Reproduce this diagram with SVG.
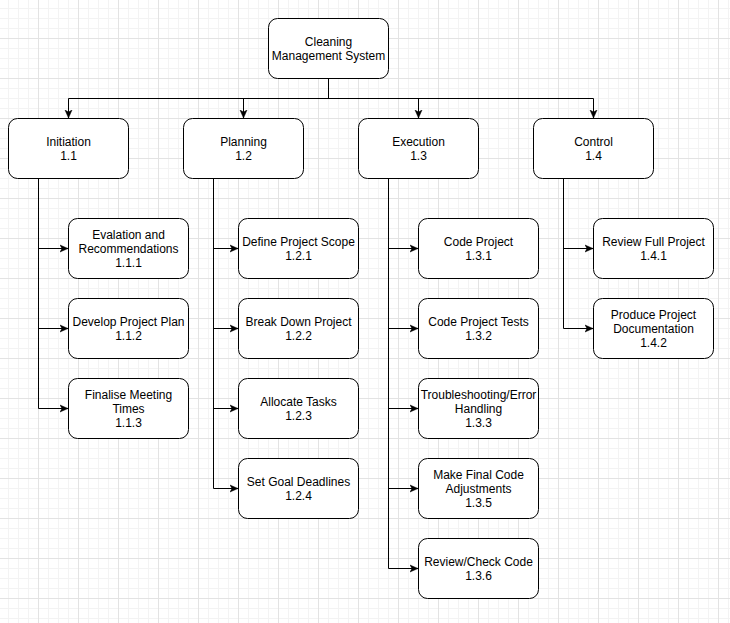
<svg xmlns="http://www.w3.org/2000/svg" width="730" height="623" viewBox="0 0 730 623">
<style>
.n rect{fill:#fff;stroke:#000;stroke-width:1}
.n text{font-family:"Liberation Sans",Arial,sans-serif;font-size:12px;fill:#000;text-anchor:middle}
.c path{fill:none;stroke:#000;stroke-width:1;marker-end:url(#arr)}
</style>
<defs>
<pattern id="grid" patternUnits="userSpaceOnUse" x="0" y="0" width="40" height="40">
<rect x="8" y="0" width="1" height="40" fill="#f3f3f3"/>
<rect x="18" y="0" width="1" height="40" fill="#f3f3f3"/>
<rect x="28" y="0" width="1" height="40" fill="#f3f3f3"/>
<rect x="0" y="8" width="40" height="1" fill="#f3f3f3"/>
<rect x="0" y="18" width="40" height="1" fill="#f3f3f3"/>
<rect x="0" y="28" width="40" height="1" fill="#f3f3f3"/>
<rect x="38" y="0" width="1" height="40" fill="#e3e3e3"/>
<rect x="0" y="38" width="40" height="1" fill="#e3e3e3"/>
</pattern>
<marker id="arr" markerUnits="userSpaceOnUse" markerWidth="10" markerHeight="10" refX="8" refY="4" orient="auto" viewBox="0 0 10 8">
<path d="M0,0.5 L8,4 L0,7.5 L2,4 Z" fill="#000" stroke="#000" stroke-width="0.5"/>
</marker>
</defs>
<rect width="730" height="623" fill="#fff"/>
<rect width="730" height="623" fill="url(#grid)"/>

<g id="connectors" class="c">
<path d="M328.5,78.5 V98.5 H68.5 V118"/>
<path d="M328.5,78.5 V98.5 H243.5 V118"/>
<path d="M328.5,78.5 V98.5 H418.5 V118"/>
<path d="M328.5,78.5 V98.5 H593.5 V118"/>
<path d="M38.5,178.5 V248.5 H68"/>
<path d="M38.5,178.5 V328.5 H68"/>
<path d="M38.5,178.5 V408.5 H68"/>
<path d="M213.5,178.5 V248.5 H238"/>
<path d="M213.5,178.5 V328.5 H238"/>
<path d="M213.5,178.5 V408.5 H238"/>
<path d="M213.5,178.5 V488.5 H238"/>
<path d="M388.5,178.5 V248.5 H418"/>
<path d="M388.5,178.5 V328.5 H418"/>
<path d="M388.5,178.5 V408.5 H418"/>
<path d="M388.5,178.5 V488.5 H418"/>
<path d="M388.5,178.5 V568.5 H418"/>
<path d="M563.5,178.5 V248.5 H593"/>
<path d="M563.5,178.5 V328.5 H593"/>
</g>

<g id="root" class="n"><rect x="268.5" y="18.5" width="120" height="60" rx="9"/><text x="328.5" y="46">Cleaning</text><text x="328.5" y="60">Management System</text></g>

<g id="n1_1" class="n"><rect x="8.5" y="118.5" width="120" height="60" rx="9"/><text x="68.5" y="146">Initiation</text><text x="68.5" y="160">1.1</text></g>
<g id="n1_2" class="n"><rect x="183.5" y="118.5" width="120" height="60" rx="9"/><text x="243.5" y="146">Planning</text><text x="243.5" y="160">1.2</text></g>
<g id="n1_3" class="n"><rect x="358.5" y="118.5" width="120" height="60" rx="9"/><text x="418.5" y="146">Execution</text><text x="418.5" y="160">1.3</text></g>
<g id="n1_4" class="n"><rect x="533.5" y="118.5" width="120" height="60" rx="9"/><text x="593.5" y="146">Control</text><text x="593.5" y="160">1.4</text></g>

<g id="n1_1_1" class="n"><rect x="68.5" y="218.5" width="120" height="60" rx="9"/><text x="128.5" y="239">Evalation and</text><text x="128.5" y="253">Recommendations</text><text x="128.5" y="267">1.1.1</text></g>
<g id="n1_1_2" class="n"><rect x="68.5" y="298.5" width="120" height="60" rx="9"/><text x="128.5" y="326">Develop Project Plan</text><text x="128.5" y="340">1.1.2</text></g>
<g id="n1_1_3" class="n"><rect x="68.5" y="378.5" width="120" height="60" rx="9"/><text x="128.5" y="399">Finalise Meeting</text><text x="128.5" y="413">Times</text><text x="128.5" y="427">1.1.3</text></g>

<g id="n1_2_1" class="n"><rect x="238.5" y="218.5" width="120" height="60" rx="9"/><text x="298.5" y="246">Define Project Scope</text><text x="298.5" y="260">1.2.1</text></g>
<g id="n1_2_2" class="n"><rect x="238.5" y="298.5" width="120" height="60" rx="9"/><text x="298.5" y="326">Break Down Project</text><text x="298.5" y="340">1.2.2</text></g>
<g id="n1_2_3" class="n"><rect x="238.5" y="378.5" width="120" height="60" rx="9"/><text x="298.5" y="406">Allocate Tasks</text><text x="298.5" y="420">1.2.3</text></g>
<g id="n1_2_4" class="n"><rect x="238.5" y="458.5" width="120" height="60" rx="9"/><text x="298.5" y="486">Set Goal Deadlines</text><text x="298.5" y="500">1.2.4</text></g>

<g id="n1_3_1" class="n"><rect x="418.5" y="218.5" width="120" height="60" rx="9"/><text x="478.5" y="246">Code Project</text><text x="478.5" y="260">1.3.1</text></g>
<g id="n1_3_2" class="n"><rect x="418.5" y="298.5" width="120" height="60" rx="9"/><text x="478.5" y="326">Code Project Tests</text><text x="478.5" y="340">1.3.2</text></g>
<g id="n1_3_3" class="n"><rect x="418.5" y="378.5" width="120" height="60" rx="9"/><text x="478.5" y="399">Troubleshooting/Error</text><text x="478.5" y="413">Handling</text><text x="478.5" y="427">1.3.3</text></g>
<g id="n1_3_5" class="n"><rect x="418.5" y="458.5" width="120" height="60" rx="9"/><text x="478.5" y="479">Make Final Code</text><text x="478.5" y="493">Adjustments</text><text x="478.5" y="507">1.3.5</text></g>
<g id="n1_3_6" class="n"><rect x="418.5" y="538.5" width="120" height="60" rx="9"/><text x="478.5" y="566">Review/Check Code</text><text x="478.5" y="580">1.3.6</text></g>

<g id="n1_4_1" class="n"><rect x="593.5" y="218.5" width="120" height="60" rx="9"/><text x="653.5" y="246">Review Full Project</text><text x="653.5" y="260">1.4.1</text></g>
<g id="n1_4_2" class="n"><rect x="593.5" y="298.5" width="120" height="60" rx="9"/><text x="653.5" y="319">Produce Project</text><text x="653.5" y="333">Documentation</text><text x="653.5" y="347">1.4.2</text></g>
</svg>
